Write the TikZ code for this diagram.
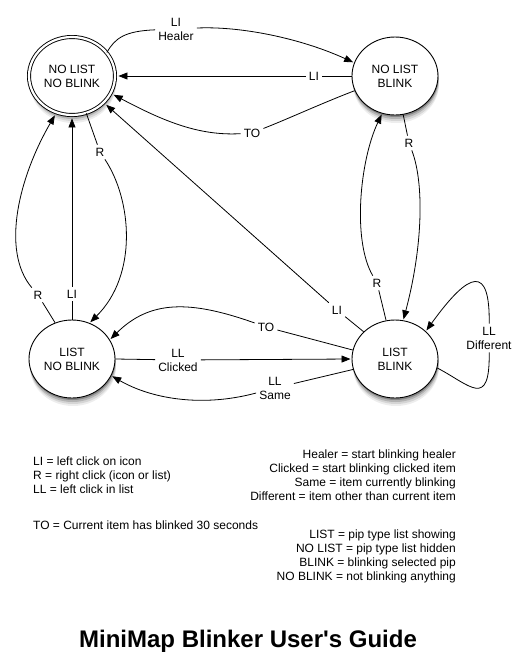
\documentclass[tikz,border=0pt]{standalone}
\usepackage{fontspec}
\setmainfont{Liberation Sans}
\newfontfamily\titlefont{Liberation Sans}
\usetikzlibrary{arrows.meta,shapes.geometric}
\begin{document}
\begin{tikzpicture}[x=1pt,y=-1pt,
  softshadow/.style={
    preaction={fill=black,opacity=0.07,transform canvas={xshift=1pt,yshift=-8pt}},
    preaction={fill=black,opacity=0.10,transform canvas={xshift=1pt,yshift=-6pt}},
    preaction={fill=black,opacity=0.16,transform canvas={xshift=0.5pt,yshift=-4pt}},
    preaction={fill=black,opacity=0.25,transform canvas={xshift=0.5pt,yshift=-2pt}}},
  state/.style={ellipse,draw,fill=white,line width=0.9pt,minimum width=86pt,minimum height=78pt,inner sep=0pt,align=center,font=\fontsize{12}{14}\selectfont,softshadow},
  lab/.style={align=center,inner sep=3pt,font=\fontsize{12}{14}\selectfont},
  edge/.style={line width=0.8pt},
  arr/.style={edge,-{Triangle[length=9pt,width=7pt]},shorten >=1pt},
  legend/.style={inner sep=0pt,font=\fontsize{12}{14}\selectfont}
]
\useasboundingbox (0,0) rectangle (527,665);

% states
\node[state,double,double distance=2.2pt] (nlnb) at (72,76) {NO LIST\\NO BLINK};
\node[state] (nlb) at (395,76) {NO LIST\\BLINK};
\node[state] (lnb) at (72,359) {LIST\\NO BLINK};
\node[state] (lb) at (395,359) {LIST\\BLINK};

% labels
\node[lab] (lh) at (176,29) {LI\\Healer};
\node[lab] (l2) at (314,76) {LI};
\node[lab] (l3) at (252,133) {TO};
\node[lab] (l4) at (100,152) {R};
\node[lab] (l5) at (38,295) {R};
\node[lab] (l6) at (72,294) {LI};
\node[lab] (l7) at (337,310) {LI};
\node[lab] (l8) at (266,327) {TO};
\node[lab] (l9) at (178,360) {LL\\Clicked};
\node[lab] (l10) at (275,388) {LL\\Same};
\node[lab] (l11) at (377,283) {R};
\node[lab] (l12) at (409,143) {R};
\node[lab] (l13) at (489,338) {LL\\Different};

% connectors
\draw[edge] (nlnb.34) .. controls (115,38) and (125,31) .. (lh);
\draw[arr] (lh) .. controls (240,26) and (300,38) .. (nlb.162);
\draw[edge] (nlb.180) -- (l2);
\draw[arr,shorten >=3pt] (l2) -- (nlnb.0);
\draw[edge] (nlb.200) .. controls (320,104) and (290,118) .. (l3);
\draw[arr,shorten >=3pt] (l3) .. controls (200,136) and (165,122) .. (nlnb.336);
\draw[edge] (nlnb.291) -- (l4);
\draw[arr] (l4) .. controls (132,200) and (138,275) .. (lnb.64);
\draw[edge] (lnb.115) -- (l5);
\draw[arr,shorten >=3pt] (l5) .. controls (0,250) and (20,175) .. (nlnb.247);
\draw[edge] (lnb.90) -- (l6);
\draw[arr,shorten >=3pt] (l6) -- (nlnb.270);
\draw[edge] (lb.139) -- (l7);
\draw[arr,shorten >=3pt] (l7) -- (nlnb.320);
\draw[edge] (lb.168) -- (l8);
\draw[arr] (l8) .. controls (190,300) and (150,300) .. (lnb.27);
\draw[edge] (lnb.0) -- (l9);
\draw[arr] (l9) -- (lb.180);
\draw[edge] (lb.194) -- (l10);
\draw[arr] (l10) .. controls (200,408) and (150,398) .. (lnb.337);
\draw[edge] (lb.103) -- (l11);
\draw[arr] (l11) .. controls (352,240) and (360,160) .. (nlb.251);
\draw[edge] (nlb.282) -- (l12);
\draw[arr] (l12) .. controls (425,185) and (422,250) .. (lb.78);
\draw[edge] (lb.348) .. controls (470,385) and (490,410) .. (l13);
\draw[arr] (l13) .. controls (490,265) and (470,270) .. (lb.42);

% legend
\node[legend,anchor=west,align=left] (k1) at (33,475.5) {LI = left click on icon\\R = right click (icon or list)\\LL = left click in list};
\node[legend,anchor=west] (k2) at (33,525) {TO = Current item has blinked 30 seconds};
\node[legend,anchor=east,align=right] (k3) at (456,475) {Healer = start blinking healer\\Clicked = start blinking clicked item\\Same = item currently blinking\\Different = item other than current item};
\node[legend,anchor=east,align=right] (k4) at (456,556) {LIST = pip type list showing\\NO LIST = pip type list hidden\\BLINK = blinking selected pip\\NO BLINK = not blinking anything};
\node[font=\titlefont\fontsize{24}{28}\selectfont\bfseries] (title) at (248,641) {MiniMap Blinker User's Guide};
\end{tikzpicture}
\end{document}
